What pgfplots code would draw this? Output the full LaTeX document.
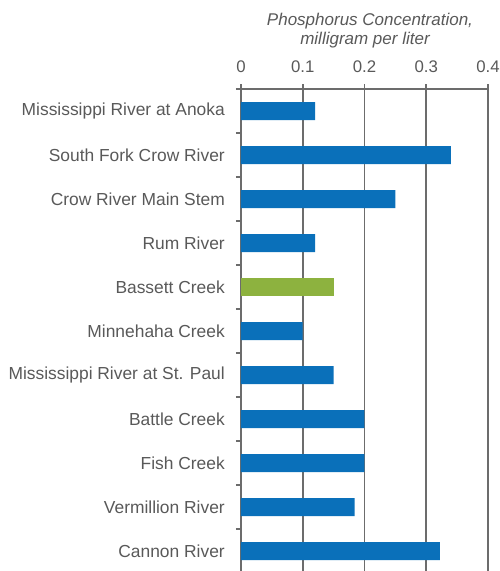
\documentclass[border=0pt]{standalone}
\usepackage{fontspec}
\setmainfont{Liberation Sans}
\usepackage{pgfplots}
\pgfplotsset{compat=1.18}

\definecolor{barblue}{RGB}{10,112,186}
\definecolor{bargreen}{RGB}{141,178,63}
\definecolor{gridgray}{RGB}{108,108,108}
\definecolor{txtgray}{RGB}{89,89,89}

\begin{document}
\begin{tikzpicture}
\begin{axis}[
    scale only axis,
    width=247bp, height=484bp,
    xmin=0, xmax=0.4,
    ymin=-0.5, ymax=10.5,
    y dir=reverse,
    axis x line*=top,
    axis y line*=left,
    axis line style={gridgray, line width=1.8bp, -},
    xtick={0,0.1,0.2,0.3,0.4},
    xmajorgrids,
    grid style={gridgray, line width=1.8bp},
    tick align=outside,
    major tick length=5bp,
    tick style={gridgray, line width=1.8bp},
    ytick={-0.5,0.5,...,10.5},
    y tick label as interval,
    yticklabels={Mississippi River at Anoka, South Fork Crow River, Crow River Main Stem,
        Rum River, Bassett Creek, Minnehaha Creek, Mississippi River at St. Paul,
        Battle Creek, Fish Creek, Vermillion River, Cannon River},
    /pgf/number format/assume math mode=true,
    xticklabel style={font=\fontsize{16.8bp}{19bp}\selectfont, text=txtgray, inner sep=0pt, anchor=south},
    yticklabel style={font=\fontsize{17.4bp}{20bp}\selectfont, text=txtgray, inner sep=0pt, anchor=east},
    xticklabel shift=11bp,
    yticklabel shift=11bp,
]

% blue bars
\addplot[xbar, fill=barblue, draw=none, bar width=18bp, bar shift=0pt] coordinates {
    (0.12,0) (0.34,1) (0.25,2) (0.12,3) (0.10,5) (0.15,6)
    (0.20,7) (0.20,8) (0.184,9) (0.322,10)
};
% Bassett Creek highlighted
\addplot[xbar, fill=bargreen, draw=none, bar width=18bp, bar shift=0pt] coordinates {
    (0.15,4)
};

\end{axis}

\path (current axis.north west) coordinate (tl) (current axis.south east) coordinate (br);
\node[anchor=base, inner sep=0pt, text=txtgray, font=\itshape\fontsize{17bp}{20bp}\selectfont]
    at ([xshift=129bp, yshift=63.5bp]tl) {Phosphorus Concentration,};
\node[anchor=base, inner sep=0pt, text=txtgray, font=\itshape\fontsize{17bp}{20bp}\selectfont]
    at ([xshift=124bp, yshift=44bp]tl) {milligram per liter};

\pgfresetboundingbox
\path ([xshift=-241bp, yshift=89bp]tl) rectangle ([xshift=12bp, yshift=2bp]br);
\end{tikzpicture}
\end{document}
